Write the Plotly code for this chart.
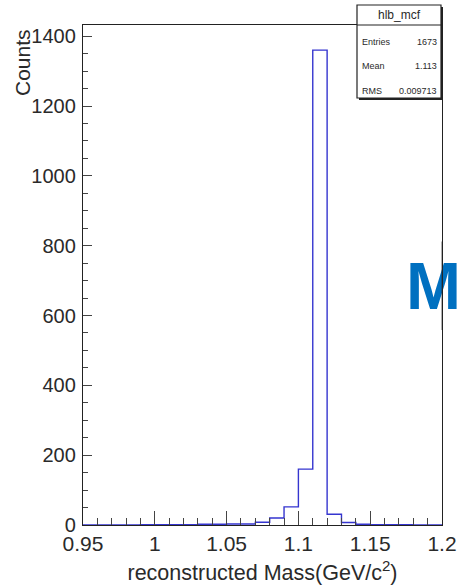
import plotly.graph_objects as go

# ---- data ----
bin_low = [0.95, 0.96, 0.97, 0.98, 0.99, 1.00, 1.01, 1.02, 1.03, 1.04,
           1.05, 1.06, 1.07, 1.08, 1.09, 1.10, 1.11, 1.12, 1.13, 1.14,
           1.15, 1.16, 1.17, 1.18, 1.19]
counts = [0, 0, 0, 0, 1, 1, 1, 1, 2, 2,
          3, 3, 8, 20, 52, 160, 1360, 31, 7, 2,
          1, 1, 1, 0, 0]
bin_width = 0.01
x_ticks = [0.95, 1.0, 1.05, 1.1, 1.15, 1.2]
x_ticklabels = ["0.95", "1", "1.05", "1.1", "1.15", "1.2"]
y_ticks = [0, 200, 400, 600, 800, 1000, 1200, 1400]
y_ticklabels = ["0", "200", "400", "600", "800", "1000", "1200", "1400"]
hist_name = "hlb_mcf"
stats_labels = ["Entries", "Mean", "RMS"]
stats_values = ["1673", "1.113", "0.009713"]
x_title = "reconstructed Mass(GeV/c<sup>2</sup>)"
y_title = "Counts"

W, H = 457, 588
L, R, T, B = 83, 15, 25, 63
pw, ph = W - L - R, H - T - B

def px(xp):
    return (xp - L) / pw

def py(yp):
    return (H - B - yp) / ph

FONT = "Liberation Sans, Arial, sans-serif"
TXT = "#2a2a2a"

step_x = bin_low + [bin_low[-1] + bin_width]
step_y = counts + [counts[-1]]

fig = go.Figure()
fig.add_trace(go.Scatter(
    x=step_x, y=step_y, mode="lines", line=dict(color="#3535cf", width=1.4, shape="hv"),
    hoverinfo="skip", showlegend=False))

fig.update_layout(
    width=W, height=H,
    margin=dict(l=L, r=R, t=T, b=B, pad=0, autoexpand=False),
    paper_bgcolor="white", plot_bgcolor="white",
    font=dict(family=FONT, color=TXT),
    showlegend=False,
)
fig.update_xaxes(
    range=[0.95, 1.2], tickvals=x_ticks, ticktext=x_ticklabels, automargin=False,
    ticks="inside", ticklen=14, tickwidth=1.2, tickcolor="#444",
    minor=dict(dtick=0.01, tick0=0.95, ticks="inside", ticklen=7, tickwidth=1.2, tickcolor="#444", showgrid=False),
    showgrid=False, zeroline=False, showline=True, linecolor="#222", linewidth=1.3, mirror=True,
    tickfont=dict(size=21, color=TXT),
    title=dict(text=x_title, font=dict(size=21.5, color=TXT), standoff=10),
)
fig.update_yaxes(
    range=[0, 1432], tickvals=y_ticks, ticktext=y_ticklabels, automargin=False,
    ticks="inside", ticklen=9, tickwidth=1.2, tickcolor="#444",
    minor=dict(dtick=50, tick0=0, ticks="inside", ticklen=5, tickwidth=1.2, tickcolor="#444", showgrid=False),
    showgrid=False, zeroline=False, showline=True, linecolor="#222", linewidth=1.3, mirror=True,
    tickfont=dict(size=20, color=TXT), ticklabelstandoff=2,
)

annotations = []
# y axis title (top aligned, ROOT style)
annotations.append(dict(text=y_title, xref="paper", yref="paper", x=px(22.5), y=py(62.5),
                        textangle=-90, showarrow=False, font=dict(size=21, color=TXT),
                        xanchor="center", yanchor="middle"))

# stats box
bx0, bx1, by0, by1 = 357, 441, 5, 98
shapes = []
# shadow
shapes.append(dict(type="rect", xref="paper", yref="paper", x0=px(bx0 + 2), x1=px(bx1 + 2),
                   y0=py(by1 + 2), y1=py(by0 + 2), fillcolor="#222", line=dict(width=0), layer="above"))
shapes.append(dict(type="rect", xref="paper", yref="paper", x0=px(bx0), x1=px(bx1),
                   y0=py(by1), y1=py(by0), fillcolor="white", line=dict(color="#222", width=1.2), layer="above"))
shapes.append(dict(type="line", xref="paper", yref="paper", x0=px(bx0), x1=px(bx1),
                   y0=py(25), y1=py(25), line=dict(color="#222", width=1.2), layer="above"))
fig.update_layout(shapes=shapes)

annotations.append(dict(text=hist_name, xref="paper", yref="paper", x=px((bx0 + bx1) / 2), y=py(15),
                        showarrow=False, font=dict(size=12, color=TXT), xanchor="center", yanchor="middle"))
row_y = [42, 66, 91]
for lab, val, ry in zip(stats_labels, stats_values, row_y):
    annotations.append(dict(text=lab, xref="paper", yref="paper", x=px(bx0 + 3), y=py(ry),
                            showarrow=False, font=dict(size=9, color=TXT), xanchor="left", yanchor="middle"))
    annotations.append(dict(text=val, xref="paper", yref="paper", x=px(bx1 - 2), y=py(ry),
                            showarrow=False, font=dict(size=9, color=TXT), xanchor="right", yanchor="middle"))

# big blue "M" overlay, partly cut off at the right edge
annotations.append(dict(text="<b>M</b>", xref="paper", yref="paper", x=px(404), y=py(286),
                        showarrow=False, font=dict(size=66, color="#0070c0", family="Liberation Sans, Arial"),
                        xanchor="left", yanchor="middle"))
# frame line drawn over the M
annotations.append(dict(text="", xref="paper", yref="paper", x=px(442.3), y=py(330),
                        ax=0, ay=-90, axref="pixel", ayref="pixel",
                        showarrow=True, arrowhead=0, arrowwidth=1.3, arrowcolor="#222"))

fig.update_layout(annotations=annotations)

fig.write_html("out.html")
